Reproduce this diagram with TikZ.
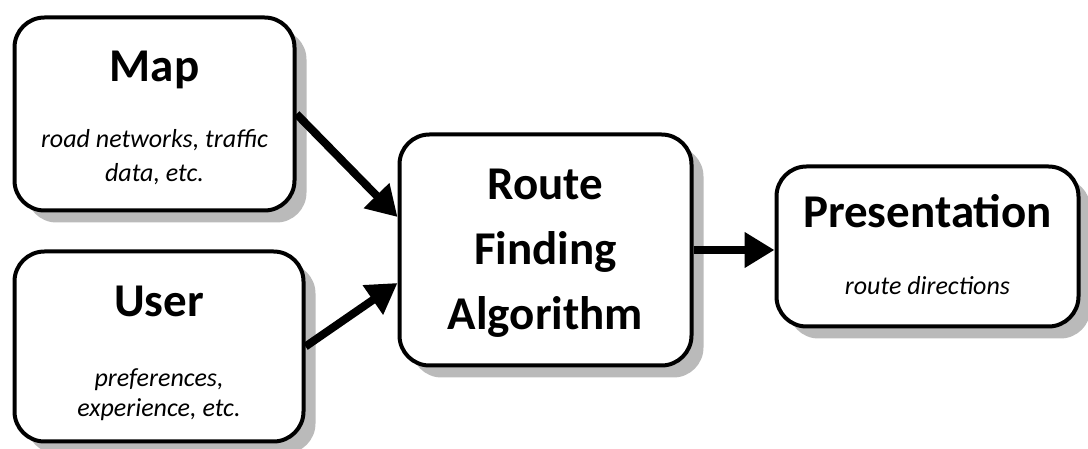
\documentclass[tikz,border=0pt]{standalone}
\usepackage{fontspec}
\setmainfont{Carlito}
\usetikzlibrary{arrows.meta,shadows}
\begin{document}
\begin{tikzpicture}[x=1pt,y=1pt,
  box/.style={draw=black, line width=4pt, rounded corners=30pt, fill=white,
    drop shadow={shadow xshift=12pt, shadow yshift=-12pt, fill=black!27, opacity=1}},
  title/.style={anchor=base, inner sep=0pt, font=\fontsize{47}{56}\selectfont\bfseries},
  sub/.style={anchor=base, inner sep=0pt, font=\fontsize{26}{31}\selectfont\itshape},
  conn/.style={line width=8pt, -{Triangle[length=30pt,width=34pt]}}]
\useasboundingbox (0,0) rectangle (1088,449);
\node[box, minimum width=280pt, minimum height=193pt] (map) at (154.5,335) {};
\node[box, minimum width=289pt, minimum height=190pt] (user) at (159,102.5) {};
\node[box, minimum width=292pt, minimum height=231pt] (route) at (545.5,199) {};
\node[box, minimum width=302pt, minimum height=160pt] (pres) at (927.5,202.5) {};
% texts
\node[title] (mapt) at ([yshift=32pt]map.center) {Map};
\node[sub] (maps1) at ([yshift=-34pt]map.center) {road networks, traffic};
\node[sub] (maps2) at ([yshift=-68pt]map.center) {data, etc.};
\node[title] (usert) at ([yshift=29.5pt]user.center) {User};
\node[sub] (users1) at ([yshift=-40.5pt]user.center) {preferences,};
\node[sub] (users2) at ([yshift=-70.5pt]user.center) {experience, etc.};
\node[title] (rt1) at ([yshift=50pt]route.center) {Route};
\node[title] (rt2) at ([yshift=-15pt]route.center) {Finding};
\node[title] (rt3) at ([yshift=-80pt]route.center) {Algorithm};
\node[title] (prest) at ([yshift=18.5pt]pres.center) {Presentation};
\node[sub] (press) at ([yshift=-48.5pt]pres.center) {route directions};
% connectors
\draw[conn] (map.east) -- ([yshift=33pt]route.west);
\draw[conn] (user.east) -- ([yshift=-33pt]route.west);
\draw[conn] (route.east) -- (route.east -| pres.west);
\end{tikzpicture}
\end{document}
